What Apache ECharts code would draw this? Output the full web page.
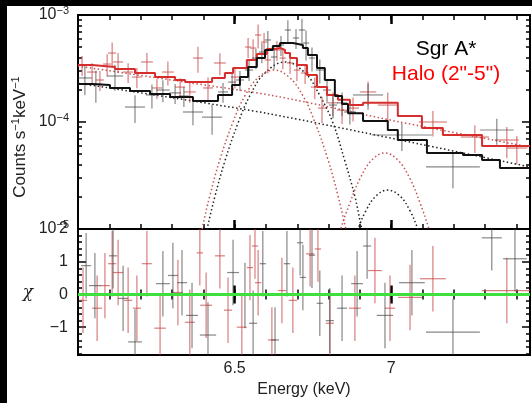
<!DOCTYPE html>
<html><head><meta charset="utf-8">
<script src="https://cdn.jsdelivr.net/npm/echarts@6/dist/echarts.min.js"></script>
<style>html,body{margin:0;padding:0;background:#fff}#c{width:532px;height:403px}</style>
</head><body><div id="c"></div>
<script>
// ---- Model (folded) step histograms: bin edges (keV) and values (counts/s/keV)
const blackModelEdges = [6.000, 6.045, 6.102, 6.166, 6.230, 6.294, 6.367, 6.447, 6.492, 6.517, 6.543, 6.571, 6.597, 6.622, 6.645, 6.686, 6.718, 6.734, 6.763, 6.788, 6.820, 6.843, 6.862, 6.910, 6.989, 7.021, 7.114, 7.229, 7.290, 7.347, 7.443];
const blackModelVals  = [2.26e-4, 2.22e-4, 2.08e-4, 1.95e-4, 1.83e-4, 1.71e-4, 1.57e-4, 1.79e-4, 2.22e-4, 2.63e-4, 3.27e-4, 3.96e-4, 4.71e-4, 5.13e-4, 5.47e-4, 5.24e-4, 4.91e-4, 4.23e-4, 3.20e-4, 2.47e-4, 1.75e-4, 1.47e-4, 1.21e-4, 1.02e-4, 8.42e-5, 6.79e-5, 5.13e-5, 4.91e-5, 4.41e-5, 3.72e-5];
const redModelEdges = [6.000, 6.045, 6.118, 6.182, 6.246, 6.310, 6.342, 6.428, 6.469, 6.495, 6.539, 6.571, 6.603, 6.629, 6.645, 6.661, 6.677, 6.699, 6.731, 6.763, 6.795, 6.830, 6.868, 6.910, 7.021, 7.098, 7.165, 7.290, 7.443];
const redModelVals  = [3.41e-4, 3.27e-4, 3.13e-4, 2.87e-4, 2.63e-4, 2.47e-4, 2.36e-4, 2.58e-4, 2.87e-4, 3.20e-4, 3.80e-4, 4.32e-4, 4.81e-4, 4.91e-4, 4.71e-4, 4.41e-4, 3.96e-4, 3.41e-4, 2.75e-4, 2.12e-4, 1.79e-4, 1.61e-4, 1.44e-4, 1.51e-4, 1.14e-4, 8.79e-5, 7.56e-5, 5.97e-5];

// ---- Model components (dotted)
const blackContE = [6.000, 6.367, 6.613, 7.028, 7.443];
const blackContV = [2.31e-4, 1.57e-4, 1.19e-4, 6.79e-5, 3.80e-5];
const redContE = [6.000, 6.342, 6.629, 7.028, 7.443];
const redContV = [3.33e-4, 2.36e-4, 1.75e-4, 1.0e-4, 5.84e-5];
const blackG1E = [6.386, 6.412, 6.437, 6.469, 6.511, 6.549, 6.597, 6.661, 6.725, 6.772, 6.814, 6.852, 6.884, 6.906, 6.935];
const blackG1V = [4.6e-6, 1.0e-5, 2.01e-5, 4.32e-5, 9.79e-5, 1.77e-4, 2.87e-4, 3.64e-4, 2.87e-4, 1.77e-4, 9.79e-5, 4.32e-5, 2.01e-5, 1.0e-5, 4.6e-6];
const redG1E = [6.377, 6.396, 6.421, 6.453, 6.495, 6.533, 6.578, 6.626, 6.673, 6.718, 6.756, 6.798, 6.830, 6.855, 6.875];
const redG1V = [5.5e-6, 1.0e-5, 2.05e-5, 4.46e-5, 1.0e-4, 1.76e-4, 2.64e-4, 3.06e-4, 2.64e-4, 1.76e-4, 1.0e-4, 4.46e-5, 2.05e-5, 1.0e-5, 5.5e-6];
const redG2E = [6.820, 6.839, 6.868, 6.900, 6.938, 6.980, 7.021, 7.060, 7.092, 7.120, 7.140];
const redG2V = [5.6e-6, 1.0e-5, 1.75e-5, 2.95e-5, 4.41e-5, 5.13e-5, 4.41e-5, 2.95e-5, 1.75e-5, 1.0e-5, 5.6e-6];
const blackG2E = [6.875, 6.894, 6.919, 6.951, 6.989, 7.028, 7.060, 7.085, 7.104];
const blackG2V = [7.0e-6, 1.0e-5, 1.48e-5, 2.03e-5, 2.31e-5, 2.03e-5, 1.48e-5, 1.0e-5, 7.0e-6];

// ---- Data points: energy, half bin width, value, 1-sigma error
const blackE   = [6.022, 6.057, 6.118, 6.182, 6.236, 6.271, 6.310, 6.338, 6.367, 6.428, 6.463, 6.492, 6.517, 6.546, 6.568, 6.587, 6.606, 6.626, 6.648, 6.670, 6.696, 6.715, 6.728, 6.747, 6.772, 6.795, 6.814, 6.843, 6.868, 6.926, 7.034, 7.197, 7.337];
const blackHW  = [0.022, 0.019, 0.026, 0.032, 0.019, 0.022, 0.019, 0.016, 0.032, 0.032, 0.016, 0.013, 0.013, 0.013, 0.013, 0.010, 0.010, 0.010, 0.010, 0.010, 0.010, 0.010, 0.010, 0.010, 0.013, 0.013, 0.013, 0.016, 0.019, 0.048, 0.096, 0.086, 0.054];
const blackVal = [2.58e-4, 2.26e-4, 2.69e-4, 1.38e-4, 1.79e-4, 1.99e-4, 1.87e-4, 1.75e-4, 1.24e-4, 1.11e-4, 1.91e-4, 2.36e-4, 2.47e-4, 3.06e-4, 3.96e-4, 4.51e-4, 5.84e-4, 4.05e-4, 5.24e-4, 7.24e-4, 6.10e-4, 7.24e-4, 5.47e-4, 3.96e-4, 3.06e-4, 1.99e-4, 1.44e-4, 1.51e-4, 1.24e-4, 1.79e-4, 7.56e-5, 3.80e-5, 8.42e-5];
const blackErr = [8.0e-5, 7.5e-5, 7.3e-5, 4.0e-5, 4.5e-5, 4.6e-5, 4.0e-5, 3.7e-5, 3.1e-5, 3.5e-5, 4.0e-5, 5.0e-5, 5.2e-5, 6.5e-5, 8.4e-5, 9.6e-5, 1.24e-4, 9.4e-5, 1.11e-4, 1.68e-4, 1.29e-4, 1.98e-4, 1.71e-4, 1.0e-4, 7.7e-5, 5.0e-5, 3.6e-5, 3.8e-5, 2.9e-5, 4.9e-5, 2.2e-5, 1.4e-5, 2.3e-5];
const redE   = [6.013, 6.045, 6.070, 6.093, 6.109, 6.128, 6.160, 6.188, 6.220, 6.252, 6.287, 6.326, 6.357, 6.383, 6.415, 6.453, 6.501, 6.543, 6.559, 6.575, 6.594, 6.606, 6.635, 6.654, 6.677, 6.699, 6.725, 6.756, 6.779, 6.814, 6.843, 6.878, 6.926, 6.989, 7.133, 7.267, 7.369, 7.401];
const redHW  = [0.016, 0.016, 0.013, 0.013, 0.013, 0.016, 0.016, 0.016, 0.019, 0.016, 0.019, 0.016, 0.019, 0.016, 0.016, 0.019, 0.013, 0.010, 0.010, 0.010, 0.010, 0.010, 0.010, 0.010, 0.010, 0.010, 0.013, 0.013, 0.013, 0.016, 0.016, 0.019, 0.026, 0.032, 0.045, 0.045, 0.038, 0.032];
const redVal = [3.41e-4, 2.93e-4, 2.47e-4, 3.48e-4, 4.41e-4, 3.64e-4, 2.93e-4, 2.63e-4, 3.64e-4, 2.08e-4, 2.93e-4, 2.12e-4, 1.91e-4, 3.96e-4, 2.08e-4, 3.56e-4, 2.63e-4, 5.02e-4, 4.91e-4, 6.50e-4, 5.59e-4, 3.80e-4, 4.71e-4, 3.96e-4, 3.56e-4, 3.06e-4, 2.87e-4, 2.12e-4, 1.35e-4, 1.51e-4, 1.29e-4, 1.35e-4, 1.91e-4, 1.44e-4, 1.0e-4, 7.24e-5, 6.79e-5, 5.71e-5];
const redErr = [7.2e-5, 6.2e-5, 5.2e-5, 8.1e-5, 1.12e-4, 7.7e-5, 6.2e-5, 5.6e-5, 7.7e-5, 4.4e-5, 7.4e-5, 4.5e-5, 4.0e-5, 1.08e-4, 5.3e-5, 8.3e-5, 5.6e-5, 1.06e-4, 1.04e-4, 1.64e-4, 1.19e-4, 9.6e-5, 1.0e-4, 8.4e-5, 7.5e-5, 6.5e-5, 6.1e-5, 4.9e-5, 3.7e-5, 3.8e-5, 3.3e-5, 3.4e-5, 4.8e-5, 4.5e-5, 2.7e-5, 2.1e-5, 2.2e-5, 1.7e-5];

// ---- Residuals (chi), error bars are +-1 sigma by definition
const resBlackE   = [6.026, 6.054, 6.112, 6.144, 6.182, 6.271, 6.303, 6.332, 6.364, 6.415, 6.495, 6.533, 6.559, 6.590, 6.629, 6.667, 6.709, 6.718, 6.747, 6.772, 6.804, 6.843, 6.891, 6.923, 6.980, 7.066, 7.197, 7.321, 7.395];
const resBlackChi = [0.88, 0.27, 1.18, -0.12, -1.45, 0.33, 0.58, 0.36, -0.64, -1.24, 0.67, -0.03, -0.88, 0.94, -1.39, 0.94, 1.58, 0.52, 1.2, -0.27, -0.8, -0.42, 0.33, 1.48, -0.64, 0.36, -1.15, 1.73, 1.09];
const resBlackHW  = [0.016, 0.019, 0.013, 0.016, 0.022, 0.022, 0.016, 0.016, 0.019, 0.026, 0.019, 0.016, 0.013, 0.010, 0.013, 0.010, 0.010, 0.010, 0.010, 0.010, 0.013, 0.016, 0.019, 0.013, 0.026, 0.041, 0.086, 0.032, 0.038];
const resRedE   = [6.016, 6.061, 6.086, 6.109, 6.128, 6.160, 6.188, 6.220, 6.262, 6.319, 6.357, 6.389, 6.409, 6.453, 6.479, 6.523, 6.549, 6.565, 6.575, 6.619, 6.651, 6.686, 6.741, 6.766, 6.804, 6.884, 6.948, 6.996, 7.060, 7.133, 7.369];
const resRedChi = [-0.18, -0.42, 0.27, 0.94, 0.67, -0.18, -0.42, 0.94, -1.03, 0.06, -0.85, 1.27, -0.33, 1.18, -0.48, -1.0, 0.82, 1.48, 0.36, -1.39, 0.12, -0.18, 1.24, 1.39, -0.88, -0.42, 0.73, -0.42, -0.09, 0.48, 0.12];
const resRedHW  = [0.013, 0.016, 0.016, 0.013, 0.016, 0.013, 0.013, 0.016, 0.019, 0.016, 0.016, 0.010, 0.019, 0.016, 0.013, 0.016, 0.010, 0.010, 0.010, 0.013, 0.013, 0.013, 0.013, 0.010, 0.013, 0.019, 0.022, 0.016, 0.038, 0.041, 0.080];
const RES_ERR = 1;

// ---- Axes / ticks
const xMin = 6.0, xMax = 7.443;
const xLabelValues = [6.5, 7];
const yTopMin = 1e-5, yTopMax = 1e-3;
const yTopMinor = [2e-5,3e-5,4e-5,5e-5,6e-5,7e-5,8e-5,9e-5,2e-4,3e-4,4e-4,5e-4,6e-4,7e-4,8e-4,9e-4];
const yBotMin = -1.85, yBotMax = 2;
const yBotMajor = [-1, 0, 1, 2];
const yBotMinor = [-1.8,-1.6,-1.4,-1.2,-0.8,-0.6,-0.4,-0.2,0.2,0.4,0.6,0.8,1.2,1.4,1.6,1.8];

const FONT = 'Liberation Sans';
const zip = (a, b) => a.map((v, i) => [v, b[i]]);
function stepData(edges, vals) {
  const d = vals.map((v, i) => [edges[i], v]);
  d.push([edges[edges.length - 1], vals[vals.length - 1]]);
  return d;
}
function crossData(E, V, HW, ERR) { return E.map((e, i) => [e, V[i], HW[i], Array.isArray(ERR) ? ERR[i] : ERR]); }
function crossRender(color, lw) {
  return function (params, api) {
    const x = api.value(0), y = api.value(1), hw = api.value(2), e = api.value(3);
    const l = api.coord([x - hw, y]), r = api.coord([x + hw, y]);
    const t = api.coord([x, y + e]), b = api.coord([x, y - e]);
    return { type: 'group', children: [
      { type: 'line', shape: { x1: l[0], y1: l[1], x2: r[0], y2: r[1] }, style: { stroke: color, lineWidth: lw } },
      { type: 'line', shape: { x1: t[0], y1: t[1], x2: b[0], y2: b[1] }, style: { stroke: color, lineWidth: lw } }
    ]};
  };
}

const tickStyle = { color: '#000', width: 1.5 };
function xAx(grid, pos, long, labels) {
  const a = { gridIndex: grid, type: 'value', min: xMin, max: xMax, position: pos,
    axisLine: { show: false }, splitLine: { show: false },
    axisTick: { inside: true, length: long ? 9 : 5, lineStyle: { color: '#000', width: long ? 2.5 : 1.5 } },
    axisLabel: { show: false } };
  if (long) { a.axisTick.customValues = xLabelValues; } else { a.interval = 0.1; }
  if (labels) {
    a.axisLabel = { show: true, customValues: xLabelValues, margin: 6, color: '#222', fontFamily: FONT, fontSize: 16,
      formatter: v => String(+v.toFixed(1)) };
  }
  return a;
}
const supFmt = v => { const e = Math.round(Math.log10(v)); return '{b|10}{s|' + (e < 0 ? '\u2212' : '') + Math.abs(e) + '}'; };
function yLog(pos, minor, labels) {
  const a = { gridIndex: 0, type: 'log', logBase: 10, min: yTopMin, max: yTopMax, position: pos,
    axisLine: { show: false }, splitLine: { show: false }, minorTick: { show: false },
    axisTick: { inside: true, length: minor ? 4 : 8, lineStyle: tickStyle }, axisLabel: { show: false } };
  if (minor) a.axisTick.customValues = yTopMinor;
  if (labels) a.axisLabel = { show: true, margin: 9, formatter: supFmt,
    rich: { b: { fontFamily: FONT, fontSize: 16, color: '#222', lineHeight: 20 },
            s: { fontFamily: FONT, fontSize: 11, color: '#222', lineHeight: 11, verticalAlign: 'top' } } };
  return a;
}
function yLin(pos, minor, labels) {
  const a = { gridIndex: 1, type: 'value', min: yBotMin, max: yBotMax, position: pos,
    axisLine: { show: false }, splitLine: { show: false },
    axisTick: { inside: true, length: minor ? 4 : 8, lineStyle: tickStyle, customValues: minor ? yBotMinor : yBotMajor },
    axisLabel: { show: false } };
  if (labels) a.axisLabel = { show: true, customValues: yBotMajor, margin: 10, color: '#222', fontFamily: FONT, fontSize: 16,
    formatter: v => (v < 0 ? '\u2212' + Math.abs(v) : String(v)) };
  return a;
}

const chart = echarts.init(document.getElementById('c'), null, { renderer: 'canvas' });
const dotted = (color) => ({ color: color, width: 1.5, type: [1.5, 2.5] });
const blackErrColor = 'rgba(70,70,70,0.65)';
const redErrColor = 'rgba(200,70,70,0.7)';
chart.setOption({
  animation: false,
  backgroundColor: '#fff',
  grid: [
    { left: 78, right: 2, top: 15, height: 214, show: true, borderColor: '#000', borderWidth: 2, backgroundColor: 'transparent' },
    { left: 78, right: 2, top: 229, height: 126, show: true, borderColor: '#000', borderWidth: 2, backgroundColor: 'transparent' }
  ],
  xAxis: [
    xAx(0, 'bottom', false), xAx(0, 'top', false), xAx(0, 'bottom', true), xAx(0, 'top', true),
    xAx(1, 'bottom', false), xAx(1, 'top', false), xAx(1, 'bottom', true, true), xAx(1, 'top', true)
  ],
  yAxis: [
    yLog('left', false, true), yLog('right', false), yLog('left', true), yLog('right', true),
    yLin('left', false, true), yLin('right', false), yLin('left', true), yLin('right', true)
  ],
  series: [
    { type: 'line', xAxisIndex: 0, yAxisIndex: 0, data: zip(redContE, redContV), showSymbol: false, smooth: 0.3, lineStyle: dotted('#c65353'), z: 2 },
    { type: 'line', xAxisIndex: 0, yAxisIndex: 0, data: zip(blackContE, blackContV), showSymbol: false, smooth: 0.3, lineStyle: dotted('#222'), z: 2 },
    { type: 'line', xAxisIndex: 0, yAxisIndex: 0, data: zip(redG1E, redG1V), showSymbol: false, smooth: 0.4, lineStyle: dotted('#c65353'), z: 2 },
    { type: 'line', xAxisIndex: 0, yAxisIndex: 0, data: zip(blackG1E, blackG1V), showSymbol: false, smooth: 0.4, lineStyle: dotted('#222'), z: 2 },
    { type: 'line', xAxisIndex: 0, yAxisIndex: 0, data: zip(redG2E, redG2V), showSymbol: false, smooth: 0.4, lineStyle: dotted('#c65353'), z: 2 },
    { type: 'line', xAxisIndex: 0, yAxisIndex: 0, data: zip(blackG2E, blackG2V), showSymbol: false, smooth: 0.4, lineStyle: dotted('#222'), z: 2 },
    { type: 'custom', xAxisIndex: 0, yAxisIndex: 0, clip: true, data: crossData(redE, redVal, redHW, redErr), renderItem: crossRender(redErrColor, 1.2), encode: { x: 0, y: 1 }, z: 3 },
    { type: 'custom', xAxisIndex: 0, yAxisIndex: 0, clip: true, data: crossData(blackE, blackVal, blackHW, blackErr), renderItem: crossRender(blackErrColor, 1.2), encode: { x: 0, y: 1 }, z: 3 },
    { type: 'line', xAxisIndex: 0, yAxisIndex: 0, step: 'end', data: stepData(redModelEdges, redModelVals), showSymbol: false, lineStyle: { color: '#d62d2d', width: 2 }, z: 4 },
    { type: 'line', xAxisIndex: 0, yAxisIndex: 0, step: 'end', data: stepData(blackModelEdges, blackModelVals), showSymbol: false, lineStyle: { color: '#111', width: 2 }, z: 5 },
    { type: 'custom', xAxisIndex: 4, yAxisIndex: 4, clip: true, data: crossData(resRedE, resRedChi, resRedHW, RES_ERR), renderItem: crossRender(redErrColor, 1.2), encode: { x: 0, y: 1 }, z: 3 },
    { type: 'custom', xAxisIndex: 4, yAxisIndex: 4, clip: true, data: crossData(resBlackE, resBlackChi, resBlackHW, RES_ERR), renderItem: crossRender(blackErrColor, 1.2), encode: { x: 0, y: 1 }, z: 3 },
    { type: 'line', xAxisIndex: 4, yAxisIndex: 4, data: [[xMin, 0], [xMax, 0]], showSymbol: false, lineStyle: { color: '#3de03d', width: 3 }, z: 6 }
  ],
  graphic: [
    { type: 'rect', shape: { x: 0, y: 0, width: 532, height: 6 }, style: { fill: '#000' }, z: 100 },
    { type: 'rect', shape: { x: 0, y: 0, width: 7, height: 403 }, style: { fill: '#000' }, z: 100 },
    { type: 'text', x: 20, y: 137, rotation: Math.PI / 2, z: 50,
      style: { text: '{a|Counts s}{s|\u22121}{a|keV}{s|\u22121}', align: 'center', verticalAlign: 'middle',
        rich: { a: { fontFamily: FONT, fontSize: 17, fill: '#222', lineHeight: 20 },
                s: { fontFamily: FONT, fontSize: 11, fill: '#222', lineHeight: 11, verticalAlign: 'top' } } } },
    { type: 'text', x: 28, y: 293, z: 50, style: { text: '\u03c7', fontFamily: 'DejaVu Serif', fontStyle: 'italic', fontSize: 17, fill: '#222', align: 'center', verticalAlign: 'middle' } },
    { type: 'text', x: 304, y: 390, z: 50, style: { text: 'Energy (keV)', fontFamily: FONT, fontSize: 16, fill: '#222', align: 'center', verticalAlign: 'middle' } },
    { type: 'text', x: 446, y: 49, z: 50, style: { text: 'Sgr A*', fontFamily: FONT, fontSize: 21, fill: '#000', align: 'center', verticalAlign: 'middle' } },
    { type: 'text', x: 446, y: 74, z: 50, style: { text: 'Halo (2"-5")', fontFamily: FONT, fontSize: 21, fill: '#ff0000', align: 'center', verticalAlign: 'middle' } }
  ]
});
</script></body></html>
